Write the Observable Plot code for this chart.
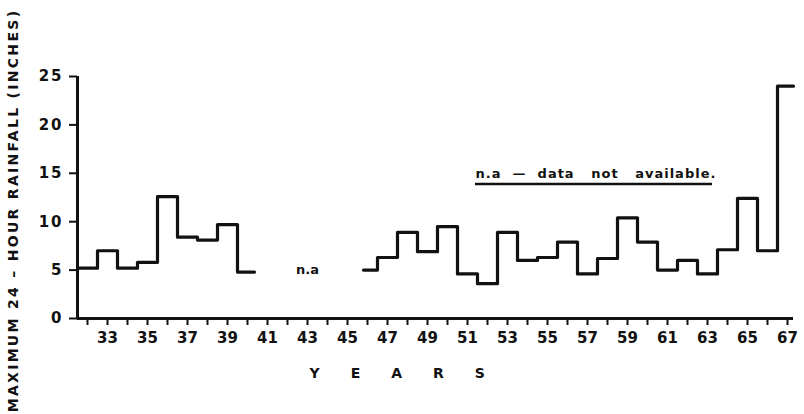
<!DOCTYPE html>
<html><head><meta charset="utf-8">
<script src="https://cdn.jsdelivr.net/npm/d3@7"></script>
<script src="https://cdn.jsdelivr.net/npm/@observablehq/plot@0.6"></script>
<style>body{margin:0;background:#fff}</style>
</head><body><div id="chart"></div>
<script>
// Data (years are 19xx)
const yearsA = [32, 33, 34, 35, 36, 37, 38, 39, 40];
const rainA  = [5.2, 7.0, 5.2, 5.8, 12.6, 8.4, 8.1, 9.7, 4.8];
const yearsB = [46, 47, 48, 49, 50, 51, 52, 53, 54, 55, 56, 57, 58, 59, 60, 61, 62, 63, 64, 65, 66, 67];
const rainB  = [5.0, 6.3, 8.9, 6.9, 9.5, 4.6, 3.6, 8.9, 6.0, 6.3, 7.9, 4.6, 6.2, 10.4, 7.9, 5.0, 6.0, 4.6, 7.1, 12.4, 7.0, 24.0];
const tickYears = d3.range(32, 68);
const yTicks = [0, 5, 10, 15, 20, 25];
const yTitle = "MAXIMUM 24 – HOUR RAINFALL (INCHES)";
const xTitle = "YEARS";
const naLabel = "n.a";
const naNote = "n.a  —  data   not   available.";

// step series: each value spans its year ± 0.5, ends partly drawn
function steps(years, vals, start, end) {
  const pts = [{x: start, y: vals[0]}];
  for (let i = 1; i < years.length; i++) pts.push({x: years[i] - 0.5, y: vals[i]});
  pts.push({x: end, y: vals[vals.length - 1]});
  return pts;
}
const stepA = steps(yearsA, rainA, 31.5, 40.35);
const stepB = steps(yearsB, rainB, 45.8, 67.3);

const ink = "#111";
const chart = Plot.plot({
  width: 804, height: 414,
  marginLeft: 77, marginRight: 11, marginTop: 76, marginBottom: 96,
  x: {domain: [31.5, 67.3]},
  y: {domain: [0, 25]},
  style: {fontFamily: "DejaVu Sans", fontWeight: "bold", color: ink, background: "#fff"},
  marks: [
    Plot.axisY({ticks: yTicks, tickSize: 8, tickPadding: 6, fontSize: 15, strokeWidth: 2, label: null}),
    Plot.axisX({ticks: tickYears, tickSize: 7, tickPadding: 7, fontSize: 15, strokeWidth: 2,
      tickFormat: d => d % 2 ? String(d) : "", label: null}),
    Plot.ruleX([31.5], {stroke: ink, strokeWidth: 3}),
    Plot.ruleY([0], {stroke: ink, strokeWidth: 3}),
    Plot.line(stepA, {x: "x", y: "y", curve: "step-after", stroke: ink, strokeWidth: 3.2}),
    Plot.line(stepB, {x: "x", y: "y", curve: "step-after", stroke: ink, strokeWidth: 3.2}),
    Plot.text([naLabel], {x: 43, y: 5, fontSize: 13, fill: ink}),
    Plot.text([naNote], {x: 51.4, y: 14.9, textAnchor: "start", fontSize: 13, fill: ink}),
    Plot.ruleY([13.9], {x1: 51.4, x2: 63.25, stroke: ink, strokeWidth: 2.5}),
    Plot.text([xTitle], {frameAnchor: "bottom-left", dx: 232, dy: 59, textAnchor: "start", fontSize: 14, fill: ink}),
    Plot.text([yTitle], {frameAnchor: "left", textAnchor: "middle", rotate: -90, dx: -64, dy: 13, fontSize: 14, fill: ink})
  ]
});
document.getElementById("chart").appendChild(chart);
const svg = d3.select(chart);
svg.selectAll("text").each(function() {
  const t = this.textContent;
  const s = d3.select(this);
  if (t === xTitle) s.attr("letter-spacing", 31);
  else if (t === yTitle) s.attr("letter-spacing", 2.3).style("white-space", "pre");
  else if (t === naNote) s.attr("letter-spacing", 1).style("white-space", "pre");
});
svg.selectAll("[aria-label='y-axis tick label'] text").attr("letter-spacing", 2);
</script>
</body></html>
